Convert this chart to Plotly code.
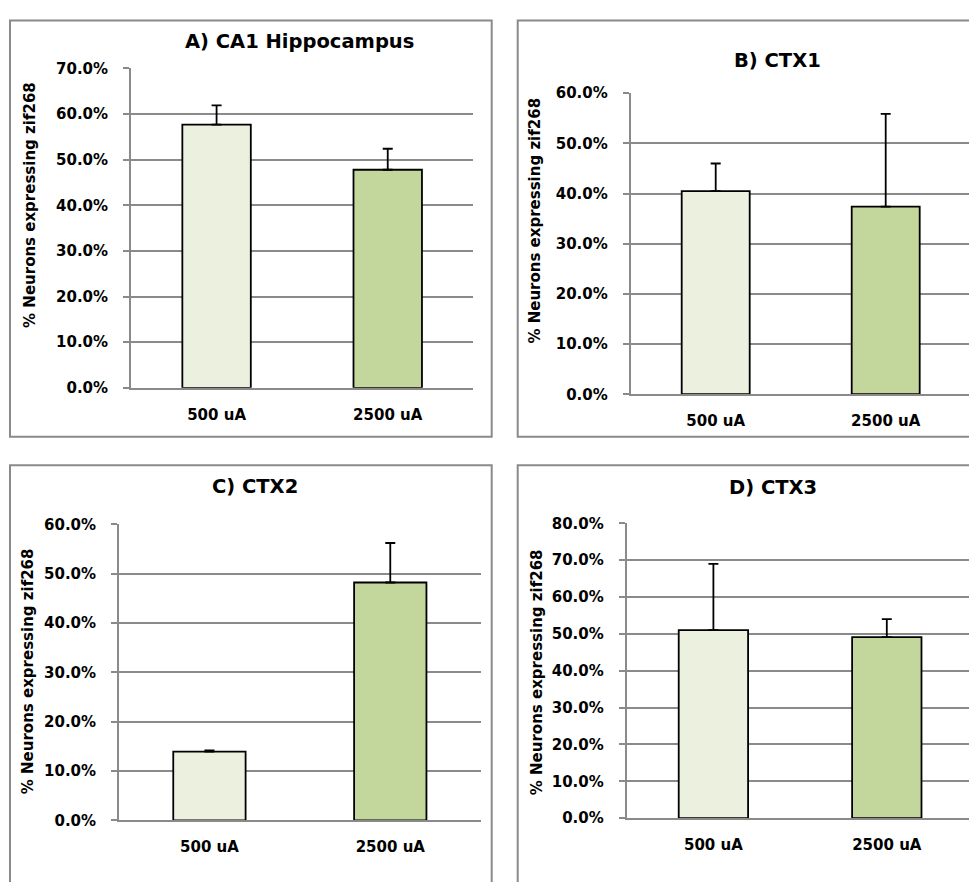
import plotly.graph_objects as go

# data
categories = ["500 uA", "2500 uA"]
panel_titles = ["A) CA1 Hippocampus", "B) CTX1", "C) CTX2", "D) CTX3"]
means_ca1 = [0.577, 0.478]
err_ca1 = [0.042, 0.046]
means_ctx1 = [0.405, 0.374]
err_ctx1 = [0.055, 0.185]
means_ctx2 = [0.1395, 0.482]
err_ctx2 = [0.0025, 0.080]
means_ctx3 = [0.510, 0.491]
err_ctx3 = [0.180, 0.049]
y_tops = [0.7, 0.6, 0.6, 0.8]
y_label = "% Neurons expressing zif268"

W, H = 969, 882
bar_colors = ["#ebf1de", "#c3d69b"]
grey = "#8a8a8a"
font = "DejaVu Sans"


def px(x):
    return x / W


def py(y):
    return 1 - y / H


# layout in pixels: axis left, plot right, plot top, plot bottom, range right end
panels = [
    dict(left=131, right=473.3, top=60.7, bottom=386.7, xr=1.5,
         title=(299, 33), ytitle=(30, 200)),
    dict(left=630.7, right=969, top=86, bottom=393.3, xr=1.49,
         title=(777, 53), ytitle=(535, 216)),
    dict(left=119, right=480.7, top=526, bottom=828.3, xr=1.5,
         title=(255, 487), ytitle=(28, 676)),
    dict(left=626.7, right=969, top=525, bottom=826, xr=1.474,
         title=(773, 488), ytitle=(537, 677)),
]
boxes = [(10, 11.7, 491.7, 436.7), (517.7, 11.7, 980, 436.7),
         (10, 465.7, 491.7, 895), (517.7, 465.7, 980, 895)]

all_means = [means_ca1, means_ctx1, means_ctx2, means_ctx3]
all_errs = [err_ca1, err_ctx1, err_ctx2, err_ctx3]

fig = go.Figure()
annotations = []
shapes = []
for i, p in enumerate(panels):
    n = "" if i == 0 else str(i + 1)
    fig.add_trace(go.Bar(
        x=categories, y=all_means[i], width=0.4,
        marker=dict(color=bar_colors, line=dict(color="black", width=1.8)),
        error_y=dict(type="data", symmetric=False, array=all_errs[i],
                     arrayminus=[0, 0], color="black", thickness=1.8, width=5),
        xaxis="x" + n, yaxis="y" + n, showlegend=False,
    ))
    fig.layout["xaxis" + n] = dict(
        domain=[px(p["left"]), px(p["right"])], anchor="y" + n,
        type="category", range=[-0.5, p["xr"]],
        showgrid=False, showline=True, linecolor=grey, linewidth=1.8,
        ticks="", ticklabelstandoff=12,
        tickfont=dict(family=font, size=15, color="black", weight="bold"),
    )
    fig.layout["yaxis" + n] = dict(
        domain=[py(p["bottom"]), py(p["top"])], anchor="x" + n,
        range=[0, y_tops[i]], dtick=0.1, tickformat=".1%",
        showgrid=True, gridcolor=grey, gridwidth=1.8, zeroline=False,
        showline=True, linecolor=grey, linewidth=1.8,
        ticks="outside", ticklen=6, tickcolor=grey, tickwidth=1.8,
        ticklabelstandoff=12,
        tickfont=dict(family=font, size=15, color="black", weight="bold"),
    )
    annotations.append(dict(
        text=panel_titles[i], x=px(p["title"][0]), y=py(p["title"][1]),
        xref="paper", yref="paper", showarrow=False,
        xanchor="center", yanchor="middle",
        font=dict(family=font, size=19.5, color="black", weight="bold"),
    ))
    annotations.append(dict(
        text=y_label, x=px(p["ytitle"][0]), y=py(p["ytitle"][1]),
        xref="paper", yref="paper", showarrow=False, textangle=-90,
        xanchor="center", yanchor="middle",
        font=dict(family=font, size=15, color="black", weight="bold"),
    ))

for x0, y0, x1, y1 in boxes:
    shapes.append(dict(type="rect", xref="paper", yref="paper",
                       x0=px(x0), x1=px(x1), y0=py(y0), y1=py(y1),
                       line=dict(color=grey, width=2)))

fig.update_layout(
    width=W, height=H, margin=dict(l=0, r=0, t=0, b=0),
    paper_bgcolor="white", plot_bgcolor="white",
    annotations=annotations, shapes=shapes, bargap=0.6,
)

# drop the browser's default 8px body margin so the figure sits at 0,0
fig.write_html("out.html", config={"displayModeBar": False},
               post_script="document.body.style.margin='0';"
                           "document.body.style.overflow='hidden';")
